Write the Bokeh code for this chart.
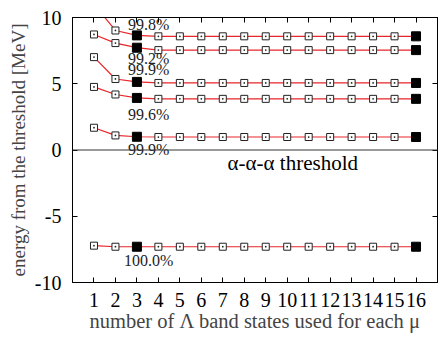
from bokeh.plotting import figure
from bokeh.models import FixedTicker, Span, LinearAxis, Range1d
from bokeh.core.properties import value
from bokeh.embed import file_html
from bokeh.resources import INLINE

n_states = list(range(1, 17))
s1 = [11.0, 9.02, 8.65] + [8.58] * 13
s2 = [8.72, 8.07, 7.72] + [7.54] * 13
s3 = [7.01, 5.36, 5.14] + [5.06] * 13
s4 = [4.76, 4.19, 3.93] + [3.86] * 13
s5 = [1.68, 1.10, 1.00] + [0.98] * 13
s6 = [-7.22, -7.30, -7.30] + [-7.30] * 13
series = [s1, s2, s3, s4, s5, s6]
filled_x = [3, 16]
pct_labels = ["99.8%", "99.2%", "99.9%", "99.6%", "99.9%", "100.0%"]
pct_y = [9.5, 6.9, 6.05, 2.65, 0.05, -8.35]
y_ticks = [-10, -5, 0, 5, 10]
y_tick_labels = ["-10", "-5", "0", "5", "10"]

FONT = "Liberation Serif"

p = figure(frame_width=365, frame_height=265, output_backend="svg", toolbar_location=None,
           x_range=Range1d(0, 17), y_range=Range1d(-10, 10),
           min_border_left=72, min_border_right=2, min_border_top=17, min_border_bottom=57)
p.background_fill_color = "white"
p.border_fill_color = "white"
p.outline_line_color = "black"
p.outline_line_width = 1
p.xgrid.visible = False
p.ygrid.visible = False

p.add_layout(Span(location=0, dimension="width", line_color="#333333", line_width=1))

for s in series:
    p.line(n_states, s, line_color="#e8252a", line_width=1.2)
    ox = [x for x in n_states if x not in filled_x]
    oy = [y for x, y in zip(n_states, s) if x not in filled_x]
    p.scatter(ox, oy, marker="square_dot", size=7, line_color="#222222", fill_color="white", line_width=1)
    fx = [x for x in n_states if x in filled_x]
    fy = [y for x, y in zip(n_states, s) if x in filled_x]
    p.scatter(fx, fy, marker="square", size=9, line_color="black", fill_color="black")

p.text(x=[3.55] * len(pct_labels), y=pct_y, text=pct_labels, text_font=value(FONT),
       text_font_size="16px", text_align="center", text_baseline="middle", text_color="#222222")
p.text(x=[10.26], y=[-0.98], text=["α-α-α threshold"], text_font=value(FONT),
       text_font_size="21px", text_align="center", text_baseline="middle", text_color="black")

for ax in (p.xaxis[0], p.yaxis[0]):
    ax.major_label_text_font = FONT
    ax.major_label_text_font_size = "20px"
    ax.major_label_text_color = "black"
    ax.axis_label_text_font = FONT
    ax.axis_label_text_font_style = "normal"
    ax.major_tick_in = 5
    ax.major_tick_out = 0
    ax.minor_tick_in = 0
    ax.minor_tick_out = 0
    ax.axis_line_color = "black"

p.xaxis[0].ticker = FixedTicker(ticks=n_states)
p.xaxis[0].axis_label = "number of Λ band states used for each μ"
p.xaxis[0].axis_label_text_font_size = "20.5px"
p.xaxis[0].major_label_standoff = 10
p.xaxis[0].axis_label_standoff = 0
p.yaxis[0].ticker = FixedTicker(ticks=y_ticks)
p.yaxis[0].major_label_overrides = {t: l for t, l in zip(y_ticks, y_tick_labels)}
p.yaxis[0].axis_label = "energy from the threshold [MeV]"
p.yaxis[0].axis_label_text_font_size = "19px"
p.yaxis[0].major_label_standoff = 11
p.yaxis[0].axis_label_standoff = 3

top = LinearAxis(ticker=FixedTicker(ticks=n_states), major_tick_in=5, major_tick_out=0,
                 minor_tick_in=0, minor_tick_out=0,
                 major_label_overrides={t: "" for t in n_states},
                 major_label_text_font_size="1px",
                 axis_line_color="black", major_label_standoff=0)
right = LinearAxis(ticker=FixedTicker(ticks=y_ticks), major_tick_in=5, major_tick_out=0,
                   minor_tick_in=0, minor_tick_out=0,
                   major_label_overrides={t: "" for t in y_ticks},
                   major_label_text_font_size="1px",
                   axis_line_color="black", major_label_standoff=0)
p.add_layout(top, "above")
p.add_layout(right, "right")

open("out.html", "w").write(file_html(p, INLINE))
